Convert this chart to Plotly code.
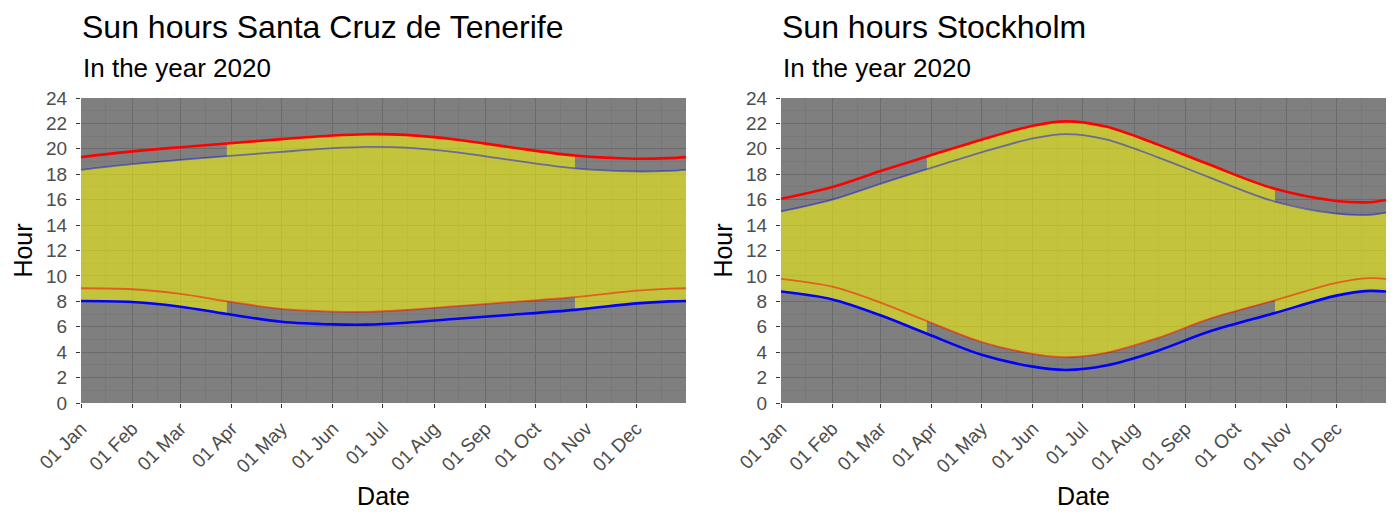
import pandas as pd
import plotly.graph_objects as go

# Sample dates (2020) and sun times, in standard time
dates = ["2020-01-01", "2020-02-01", "2020-03-01", "2020-03-29", "2020-05-01",
         "2020-06-01", "2020-06-21", "2020-07-15", "2020-08-15", "2020-09-15",
         "2020-10-25", "2020-12-01", "2020-12-21", "2020-12-31"]
dst_start = "2020-03-29"
dst_end = "2020-10-25"

tenerife_sunrise = [8.03, 7.95, 7.58, 7.00, 6.40, 6.19, 6.17, 6.32, 6.63, 6.93, 7.33, 7.84, 8.00, 8.03]
tenerife_sunset = [18.35, 18.80, 19.13, 19.42, 19.76, 20.05, 20.15, 20.10, 19.72, 19.15, 18.47, 18.22, 18.27, 18.35]

stockholm_sunrise = [8.77, 8.15, 6.90, 5.45, 3.80, 2.86, 2.60, 2.95, 4.10, 5.60, 7.08, 8.45, 8.82, 8.77]
stockholm_sunset = [15.07, 16.00, 17.25, 18.40, 19.72, 20.82, 21.16, 20.75, 19.35, 17.78, 15.85, 14.90, 14.80, 14.98]

month_starts = pd.date_range("2020-01-01", "2020-12-01", freq="MS")
minor_ticks = month_starts + pd.Timedelta(days=15)

fill_color = "rgba(255,255,0,0.53)"
font_family = "Liberation Sans, Arial, sans-serif"

fig = go.Figure()


def add_city(rise, sset, xa, ya):
    df = pd.DataFrame({"date": pd.to_datetime(dates), "rise": rise, "set": sset})
    df["rise_dst"] = df["rise"] + 1
    df["set_dst"] = df["set"] + 1
    start, end = pd.Timestamp(dst_start), pd.Timestamp(dst_end)
    segments = [
        (df[df["date"] <= start], "rise", "set"),
        (df[(df["date"] >= start) & (df["date"] <= end)], "rise_dst", "set_dst"),
        (df[df["date"] >= end], "rise", "set"),
    ]
    # daylight area, switching with daylight saving time
    for seg, lo, hi in segments:
        fig.add_trace(go.Scatter(x=seg["date"], y=seg[lo], mode="lines",
                                 line=dict(width=0, shape="spline"), showlegend=False,
                                 hoverinfo="skip", xaxis=xa, yaxis=ya))
        fig.add_trace(go.Scatter(x=seg["date"], y=seg[hi], mode="lines", fill="tonexty",
                                 fillcolor=fill_color, line=dict(width=0, shape="spline"),
                                 showlegend=False, hoverinfo="skip", xaxis=xa, yaxis=ya))
    lines = [
        ("rise_dst", "rgba(255,0,0,0.5)", 1.8),
        ("set", "rgba(0,0,255,0.45)", 1.8),
        ("rise", "#0000ff", 2.6),
        ("set_dst", "#ff0000", 2.6),
    ]
    for col, color, width in lines:
        fig.add_trace(go.Scatter(x=df["date"], y=df[col], mode="lines", name=col,
                                 line=dict(color=color, width=width, shape="spline"),
                                 showlegend=False, xaxis=xa, yaxis=ya))


add_city(tenerife_sunrise, tenerife_sunset, "x", "y")
add_city(stockholm_sunrise, stockholm_sunset, "x2", "y2")

xaxis_style = dict(
    type="date", range=["2020-01-01", "2020-12-31"], tickmode="array",
    tickvals=month_starts, tickformat="%d %b", tickangle=-45, automargin=False,
    ticks="outside", ticklen=4, tickcolor="#333333", showline=False, zeroline=False,
    gridcolor="#6b6b6b", gridwidth=1.2, ticklabelstandoff=2,
    minor=dict(tickmode="array", tickvals=minor_ticks, showgrid=True,
               gridcolor="#787878", gridwidth=0.7, ticks=""),
    tickfont=dict(size=19, color="#4d4d4d", family=font_family),
    title=dict(text="Date", font=dict(size=25, color="black", family=font_family), standoff=11),
)
yaxis_style = dict(
    range=[0, 24], dtick=2, tick0=0, ticks="outside", ticklen=4, tickcolor="#333333",
    showline=False, zeroline=False, gridcolor="#6b6b6b", gridwidth=1.2, automargin=False,
    ticklabelstandoff=5,
    minor=dict(dtick=1, showgrid=True, gridcolor="#787878", gridwidth=0.7, ticks=""),
    tickfont=dict(size=19, color="#4d4d4d", family=font_family),
    title=dict(text="Hour", font=dict(size=25, color="black", family=font_family), standoff=6),
)

fig.update_layout(
    width=1392, height=517,
    margin=dict(l=73, r=14, t=90, b=122),
    paper_bgcolor="white", plot_bgcolor="#7f7f7f",
    font=dict(family=font_family),
    xaxis=dict(domain=[0, 0.4636], anchor="y", **xaxis_style),
    yaxis=dict(domain=[0, 1], anchor="x", **yaxis_style),
    xaxis2=dict(domain=[0.5364, 1], anchor="y2", **xaxis_style),
    yaxis2=dict(domain=[0, 1], anchor="x2", **yaxis_style),
)

titles = [("Sun hours Santa Cruz de Tenerife", 0), ("Sun hours Stockholm", 0.5364)]
for text, x0 in titles:
    fig.add_annotation(text=text, x=x0, y=1.2951, xref="paper", yref="paper",
                       xanchor="left", yanchor="top", showarrow=False, borderpad=0,
                       font=dict(size=32, color="black", family=font_family))
    fig.add_annotation(text="In the year 2020", x=x0, y=1.097, xref="paper", yref="paper",
                       xanchor="left", yanchor="middle", showarrow=False,
                       font=dict(size=26, color="black", family=font_family))

fig.write_html("out.html")
